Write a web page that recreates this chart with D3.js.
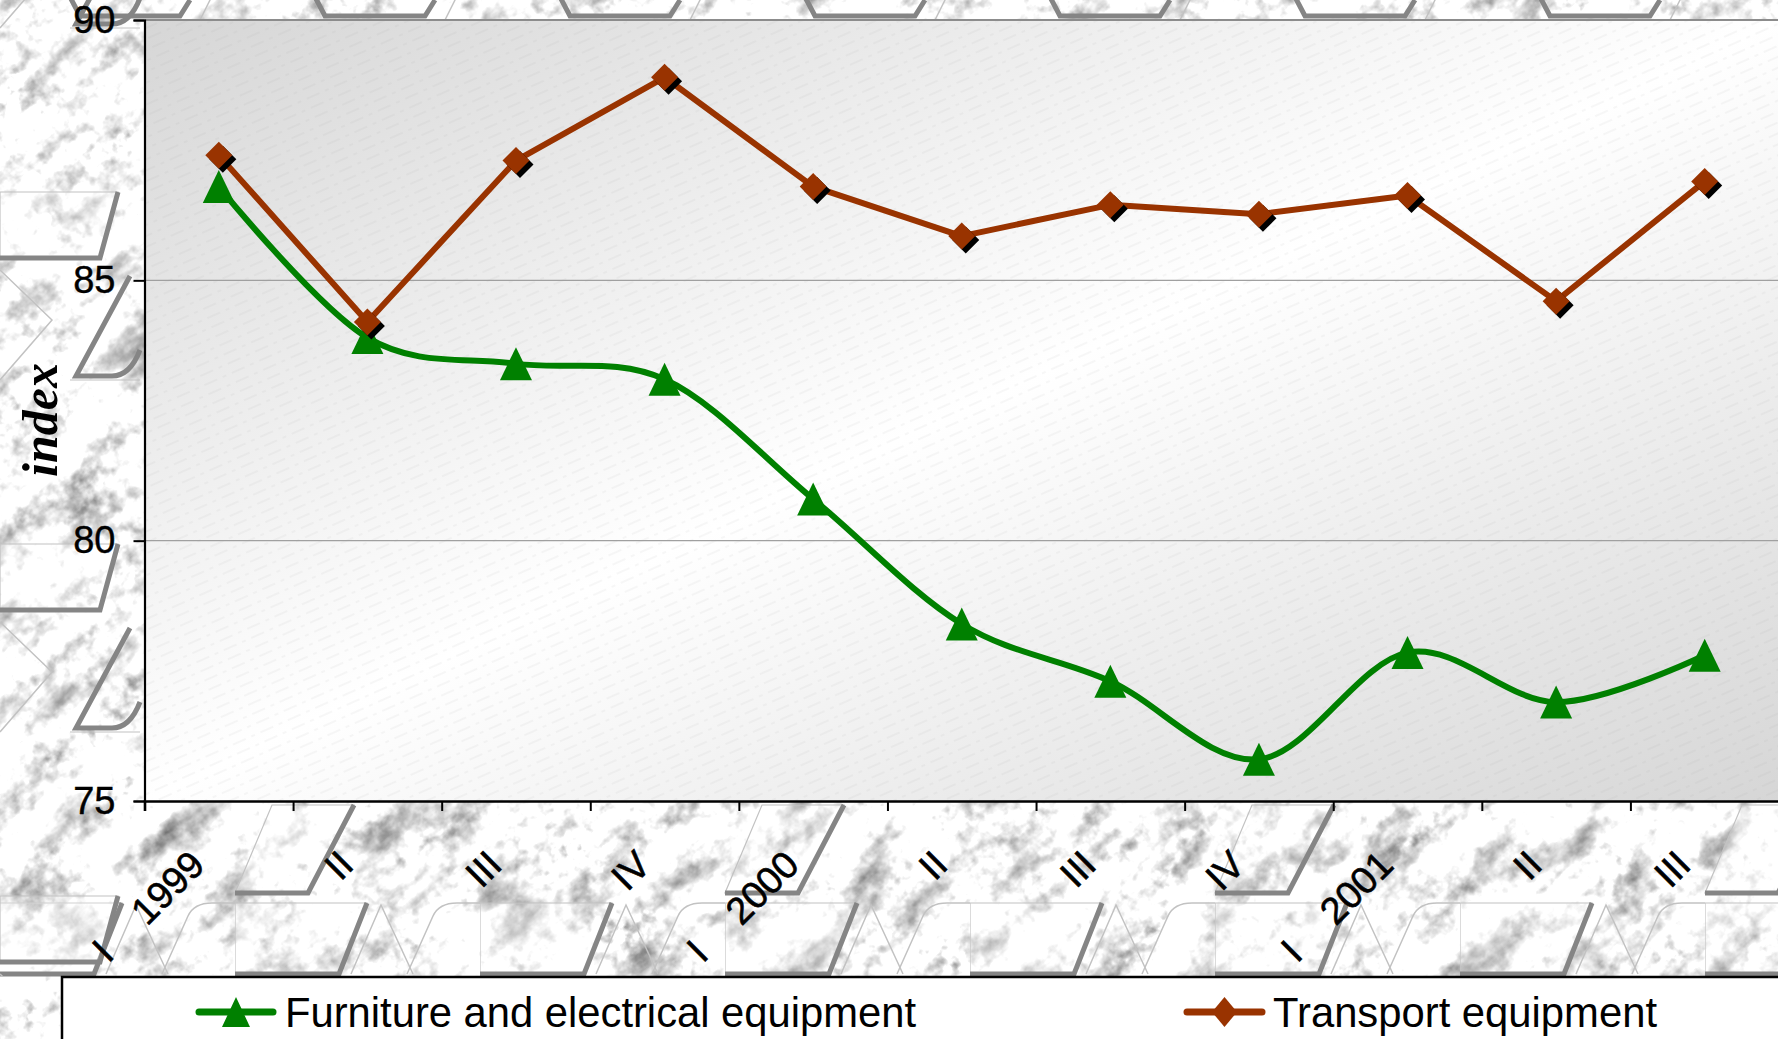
<!DOCTYPE html>
<html>
<head>
<meta charset="utf-8">
<script src="https://cdn.jsdelivr.net/npm/d3@7"></script>
<style>
  html, body { margin: 0; padding: 0; background: #dedede; overflow: hidden; }
  svg { display: block; }
</style>
</head>
<body>
<svg id="chart" width="1778" height="1039"></svg>
<script>
// Quarterly index values, 1999 Q1 – 2001 Q3
const quarters = ["I", "II", "III", "IV", "I", "II", "III", "IV", "I", "II", "III"];
const years = ["1999", "", "", "", "2000", "", "", "", "2001", "", ""];
const furniture = [86.8, 83.9, 83.4, 83.1, 80.8, 78.4, 77.3, 75.8, 77.85, 76.9, 77.8];
const transport = [87.4, 84.2, 87.3, 88.9, 86.8, 85.85, 86.45, 86.27, 86.63, 84.6, 86.9];
const yTicks = [75, 80, 85, 90];
const seriesNames = ["Furniture and electrical equipment", "Transport equipment"];
const yTitle = "index";

const W = 1778, H = 1039;
const plot = { left: 144.5, right: 1779, top: 20, bottom: 801 };
const GREEN = "#008000", BROWN = "#993300";
const SANS = "'Liberation Sans', Arial, sans-serif";
const SERIF = "'Liberation Serif', 'Times New Roman', serif";

const svg = d3.select("#chart");
const defs = svg.append("defs");

// ---------- marble backdrop ----------
const marble = defs.append("filter").attr("id", "marble")
  .attr("x", 0).attr("y", 0).attr("width", "100%").attr("height", "100%")
  .attr("color-interpolation-filters", "sRGB");
marble.append("feTurbulence").attr("type", "fractalNoise")
  .attr("baseFrequency", "0.014 0.03").attr("numOctaves", 5).attr("seed", 11).attr("result", "veins");
marble.append("feTurbulence").attr("type", "fractalNoise")
  .attr("baseFrequency", "0.09").attr("numOctaves", 3).attr("seed", 4).attr("result", "grain");
marble.append("feComposite").attr("in", "veins").attr("in2", "grain").attr("operator", "arithmetic")
  .attr("k1", 0).attr("k2", 0.8).attr("k3", 0.4).attr("k4", -0.1).attr("result", "mix");
marble.append("feColorMatrix").attr("in", "mix").attr("type", "matrix")
  .attr("values", "-1.2 0 0 0 1.47  -1.2 0 0 0 1.47  -1.2 0 0 0 1.47  0 0 0 0 1");

svg.append("g").attr("transform", `translate(${W / 2},${H / 2}) rotate(-40)`)
  .append("rect").attr("x", -1200).attr("y", -1200).attr("width", 2400).attr("height", 2400)
  .attr("filter", "url(#marble)");

// ---------- decorative tiles along the bottom and left margins ----------
const lightEdge = "#c2c2c2", darkEdge = "#858585";
const slabFill = "rgba(255,255,255,0.25)";

// Bottom upper row: slanted slabs
const rowA = defs.append("pattern").attr("id", "rowA").attr("patternUnits", "userSpaceOnUse")
  .attr("x", 232).attr("y", 800).attr("width", 490).attr("height", 100);
rowA.append("path").attr("d", "M40,5 L122,5 L76,93 L3,93 Z")
  .attr("fill", slabFill).attr("stroke", lightEdge).attr("stroke-width", 1.2);
rowA.append("path").attr("d", "M122,5 L76,93 L3,93")
  .attr("fill", "none").attr("stroke", darkEdge).attr("stroke-width", 5);
svg.append("rect").attr("x", 0).attr("y", 800).attr("width", W).attr("height", 100).attr("fill", "url(#rowA)");

// Bottom lower row: slabs, peaks and rounded blocks
const rowB = defs.append("pattern").attr("id", "rowB").attr("patternUnits", "userSpaceOnUse")
  .attr("x", -10).attr("y", 902).attr("width", 245).attr("height", 76);
rowB.append("path").attr("d", "M0,1 L132,1 L104,72 L0,72 Z")
  .attr("fill", slabFill).attr("stroke", lightEdge).attr("stroke-width", 1.2);
rowB.append("path").attr("d", "M132,1 L104,72 L0,72")
  .attr("fill", "none").attr("stroke", darkEdge).attr("stroke-width", 5);
rowB.append("path").attr("d", "M116,72 L146,3 L178,72")
  .attr("fill", "none").attr("stroke", lightEdge).attr("stroke-width", 1.5);
rowB.append("path").attr("d", "M172,72 L198,14 Q204,1 222,1 L245,1")
  .attr("fill", "none").attr("stroke", lightEdge).attr("stroke-width", 1.5);
svg.append("rect").attr("x", 0).attr("y", 902).attr("width", W).attr("height", 76).attr("fill", "url(#rowB)");

// Left column: chevrons
const colL = defs.append("pattern").attr("id", "colL").attr("patternUnits", "userSpaceOnUse")
  .attr("x", 0).attr("y", 190).attr("width", 150).attr("height", 352);
colL.append("path").attr("d", "M0,2 L118,2 L100,68 L0,68 Z")
  .attr("fill", slabFill).attr("stroke", lightEdge).attr("stroke-width", 1.2);
colL.append("path").attr("d", "M118,2 L100,68 L0,68")
  .attr("fill", "none").attr("stroke", darkEdge).attr("stroke-width", 5);
colL.append("path").attr("d", "M0,80 L52,130 L0,190")
  .attr("fill", "none").attr("stroke", lightEdge).attr("stroke-width", 1.5);
colL.append("path").attr("d", "M130,86 L76,186 L112,186 Q130,186 140,160")
  .attr("fill", "none").attr("stroke", darkEdge).attr("stroke-width", 5);
colL.append("path").attr("d", "M70,190 L140,190")
  .attr("fill", "none").attr("stroke", lightEdge).attr("stroke-width", 1.2);
svg.append("rect").attr("x", 0).attr("y", 0).attr("width", 144).attr("height", 976).attr("fill", "url(#colL)");

// Top strip
const rowT = defs.append("pattern").attr("id", "rowT").attr("patternUnits", "userSpaceOnUse")
  .attr("x", 40).attr("y", -60).attr("width", 245).attr("height", 84);
rowT.append("path").attr("d", "M0,0 L40,76 L140,76 L150,60")
  .attr("fill", "none").attr("stroke", darkEdge).attr("stroke-width", 5);
rowT.append("path").attr("d", "M160,80 L200,0")
  .attr("fill", "none").attr("stroke", lightEdge).attr("stroke-width", 1.5);
svg.append("rect").attr("x", 0).attr("y", 0).attr("width", W).attr("height", 20).attr("fill", "url(#rowT)");

// ---------- plot area ----------
const bg = defs.append("linearGradient").attr("id", "plotBg")
  .attr("x1", 0).attr("y1", 0).attr("x2", 1).attr("y2", 1);
bg.append("stop").attr("offset", "0%").attr("stop-color", "#d6d6d6");
bg.append("stop").attr("offset", "50%").attr("stop-color", "#ffffff");
bg.append("stop").attr("offset", "100%").attr("stop-color", "#d6d6d6");

const hatch = defs.append("pattern").attr("id", "hatch").attr("patternUnits", "userSpaceOnUse")
  .attr("width", 60).attr("height", 10).attr("patternTransform", "rotate(-24)");
hatch.append("line").attr("x1", 0).attr("y1", 5).attr("x2", 60).attr("y2", 5)
  .attr("stroke", "#8a8a8a").attr("stroke-opacity", 0.18).attr("stroke-width", 0.8)
  .attr("stroke-dasharray", "14 6 4 6");

const x = d3.scaleBand().domain(d3.range(quarters.length)).range([plot.left, plot.right]).padding(0);
const xc = i => x(i) + x.bandwidth() / 2;
const xEdge = d3.scaleLinear().domain([0, quarters.length]).range([plot.left, plot.right]);
const y = d3.scaleLinear().domain([75, 90]).range([plot.bottom, plot.top]);

svg.append("rect").attr("x", plot.left).attr("y", plot.top)
  .attr("width", plot.right - plot.left).attr("height", plot.bottom - plot.top)
  .attr("fill", "url(#plotBg)");
svg.append("rect").attr("x", plot.left).attr("y", plot.top)
  .attr("width", plot.right - plot.left).attr("height", plot.bottom - plot.top)
  .attr("fill", "url(#hatch)");

// gridlines
svg.append("g").selectAll("line").data(yTicks.filter(v => v > 75 && v < 90)).join("line")
  .attr("x1", plot.left).attr("x2", plot.right)
  .attr("y1", d => y(d)).attr("y2", d => y(d))
  .attr("stroke", "#a0a0a0").attr("stroke-width", 1.3);
// top border of plot
svg.append("line").attr("x1", plot.left).attr("x2", plot.right)
  .attr("y1", y(90)).attr("y2", y(90)).attr("stroke", "#8c8c8c").attr("stroke-width", 2);

// ---------- axes ----------
const yAxis = svg.append("g").attr("transform", `translate(${plot.left},0)`)
  .call(d3.axisLeft(y).tickValues(yTicks).tickSize(11).tickPadding(18).tickFormat(d3.format("d")));
yAxis.select(".domain").attr("stroke", "#000").attr("stroke-width", 2.2);
yAxis.selectAll(".tick line").attr("stroke", "#000").attr("stroke-width", 2);
yAxis.selectAll(".tick text").attr("fill", "#000")
  .attr("stroke", "#000").attr("stroke-width", 0.4)
  .style("font-family", SANS).style("font-size", "38px");

const xAxis = svg.append("g").attr("transform", `translate(0,${plot.bottom})`)
  .call(d3.axisBottom(xEdge).tickValues(d3.range(quarters.length + 1)).tickSize(10).tickFormat(""));
xAxis.select(".domain").attr("stroke", "#000").attr("stroke-width", 2.6);
xAxis.selectAll(".tick line").attr("stroke", "#000").attr("stroke-width", 2);

// category labels, rotated; the quarter of a new year sits further along the same line
const labY = 867;
const lab = svg.append("g").selectAll("g").data(quarters.map((q, i) => ({ q, yr: years[i], i }))).join("g")
  .attr("transform", d => `translate(${xc(d.i) - 12},${labY}) rotate(-45)`);
lab.append("text").attr("text-anchor", "end").attr("fill", "#000")
  .attr("stroke", "#000").attr("stroke-width", 0.6)
  .style("font-family", SANS).style("font-size", "38px")
  .text(d => d.yr || d.q);
lab.filter(d => d.yr).append("text").attr("text-anchor", "middle").attr("x", -133).attr("y", -1)
  .attr("fill", "#000").attr("stroke", "#000").attr("stroke-width", 0.6)
  .style("font-family", SANS).style("font-size", "38px")
  .text(d => d.q);

// axis title
svg.append("text").attr("transform", `translate(57,420) rotate(-90)`)
  .attr("text-anchor", "middle").attr("fill", "#000")
  .style("font-family", SERIF).style("font-size", "50px")
  .style("font-weight", "bold").style("font-style", "italic")
  .text(yTitle);

// ---------- series ----------
const triPath = (w, h) => `M0,${-h / 2}L${w / 2},${h / 2}L${-w / 2},${h / 2}Z`;
const diaPath = (w, h) => `M0,${-h / 2}L${w / 2},0L0,${h / 2}L${-w / 2},0Z`;

const clip = defs.append("clipPath").attr("id", "plotClip");
clip.append("rect").attr("x", plot.left).attr("y", 0).attr("width", W).attr("height", plot.bottom + 20);

const series = svg.append("g").attr("clip-path", "url(#plotClip)");

const lineF = d3.line().x((d, i) => xc(i)).y(d => y(d)).curve(d3.curveCardinal.tension(0));
series.append("path").datum(furniture).attr("d", lineF)
  .attr("fill", "none").attr("stroke", GREEN).attr("stroke-width", 6)
  .attr("stroke-linejoin", "round").attr("stroke-linecap", "round");
series.append("g").selectAll("path").data(furniture).join("path")
  .attr("transform", (d, i) => `translate(${xc(i)},${y(d)})`)
  .attr("d", triPath(32, 33)).attr("fill", GREEN);

const lineT = d3.line().x((d, i) => xc(i)).y(d => y(d));
series.append("path").datum(transport).attr("d", lineT)
  .attr("fill", "none").attr("stroke", BROWN).attr("stroke-width", 6)
  .attr("stroke-linejoin", "round").attr("stroke-linecap", "round");
const dm = series.append("g").selectAll("g").data(transport).join("g")
  .attr("transform", (d, i) => `translate(${xc(i)},${y(d)})`);
dm.append("path").attr("d", diaPath(27, 27)).attr("fill", "#000").attr("transform", "translate(4,4)");
dm.append("path").attr("d", diaPath(27, 27)).attr("fill", BROWN);

// ---------- legend ----------
svg.append("rect").attr("x", 62).attr("y", 977).attr("width", W).attr("height", 100)
  .attr("fill", "#fff").attr("stroke", "#000").attr("stroke-width", 2.5);

const legendItems = [
  { name: seriesNames[0], color: GREEN, marker: triPath(28, 30), x0: 199, x1: 273, tx: 285, w: 631 },
  { name: seriesNames[1], color: BROWN, marker: diaPath(25, 30), x0: 1187, x1: 1262, tx: 1273, w: 384 }
];
const lg = svg.append("g").selectAll("g").data(legendItems).join("g");
lg.append("line").attr("x1", d => d.x0).attr("x2", d => d.x1).attr("y1", 1012).attr("y2", 1012)
  .attr("stroke", d => d.color).attr("stroke-width", 7).attr("stroke-linecap", "round");
lg.append("path").attr("transform", d => `translate(${(d.x0 + d.x1) / 2},1012)`)
  .attr("d", d => d.marker).attr("fill", d => d.color);
lg.append("text").attr("x", d => d.tx).attr("y", 1027).attr("fill", "#000")
  .style("font-family", SANS).style("font-size", "42px")
  .attr("textLength", d => d.w).attr("lengthAdjust", "spacingAndGlyphs")
  .text(d => d.name);
</script>
</body>
</html>
